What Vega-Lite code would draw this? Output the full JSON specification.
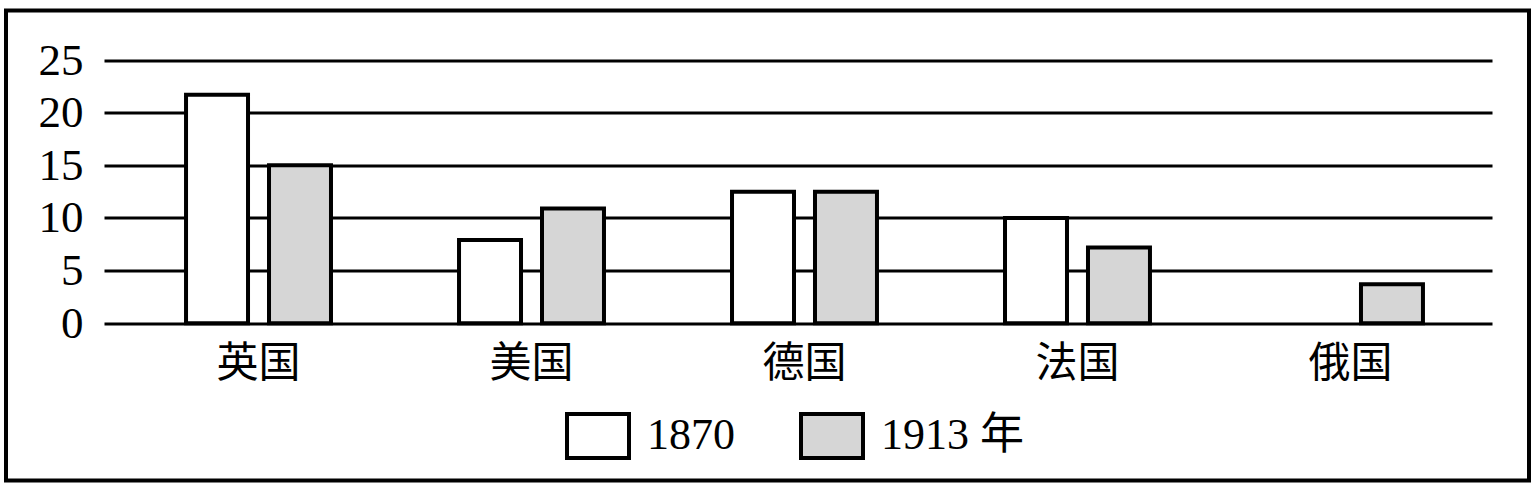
{
  "$schema": "https://vega.github.io/schema/vega-lite/v6.json",
  "autosize": {"type": "none"},
  "width": 1523,
  "height": 470,
  "padding": {"left": 6, "top": 10.5, "right": 5, "bottom": 8.5},
  "background": "white",
  "config": {
    "view": {"stroke": "black", "strokeWidth": 4, "fill": "white"}
  },
  "data": {
    "values": [
      {"国家": "英国", "年份": "1870", "比重": 21.7},
      {"国家": "英国", "年份": "1913 年", "比重": 15},
      {"国家": "美国", "年份": "1870", "比重": 7.9},
      {"国家": "美国", "年份": "1913 年", "比重": 10.9},
      {"国家": "德国", "年份": "1870", "比重": 12.5},
      {"国家": "德国", "年份": "1913 年", "比重": 12.5},
      {"国家": "法国", "年份": "1870", "比重": 10},
      {"国家": "法国", "年份": "1913 年", "比重": 7.2},
      {"国家": "俄国", "年份": "1870", "比重": null},
      {"国家": "俄国", "年份": "1913 年", "比重": 3.7}
    ]
  },
  "mark": {"type": "bar", "stroke": "black", "strokeWidth": 4, "strokeJoin": "miter"},
  "encoding": {
    "x": {
      "field": "国家",
      "type": "nominal",
      "sort": ["英国", "美国", "德国", "法国", "俄国"],
      "scale": {"range": [98, 1486], "paddingInner": 0.469, "paddingOuter": 0.2767, "align": 0.543},
      "axis": {
        "title": null,
        "orient": "bottom",
        "offset": -157.2,
        "domain": false,
        "ticks": false,
        "tickSize": 0,
        "labelAngle": 0,
        "labelPadding": 20,
        "labelFont": "Noto Sans CJK SC",
        "labelFontSize": 42,
        "labelColor": "black",
        "grid": false
      }
    },
    "xOffset": {
      "field": "年份",
      "type": "nominal",
      "sort": ["1870", "1913 年"],
      "scale": {"paddingInner": 0.253, "paddingOuter": 0}
    },
    "y": {
      "field": "比重",
      "type": "quantitative",
      "scale": {"domain": [0, 25], "range": [312.8, 49.5], "nice": false},
      "axis": {
        "title": null,
        "orient": "left",
        "offset": -98,
        "values": [0, 5, 10, 15, 20, 25],
        "domain": false,
        "ticks": false,
        "tickSize": 0,
        "labelPadding": 21,
        "labelFont": "Liberation Serif",
        "labelFontSize": 45,
        "labelColor": "black",
        "labelBaseline": "middle",
        "grid": true,
        "gridColor": "black",
        "gridWidth": 3,
        "gridOpacity": 1
      }
    },
    "fill": {
      "field": "年份",
      "type": "nominal",
      "sort": ["1870", "1913 年"],
      "scale": {"range": ["white", "#d6d6d6"]},
      "legend": {
        "title": null,
        "orient": "none",
        "direction": "horizontal",
        "legendX": 559,
        "legendY": 392,
        "padding": 0,
        "symbolType": "M-1,-0.71H1V0.71H-1Z",
        "symbolSize": 3844,
        "symbolStrokeColor": "black",
        "symbolStrokeWidth": 4,
        "symbolOpacity": 1,
        "labelFont": "Liberation Serif, Noto Sans CJK SC",
        "labelFontSize": 44,
        "labelColor": "black",
        "labelOffset": 16,
        "columnPadding": 58
      }
    }
  }
}
